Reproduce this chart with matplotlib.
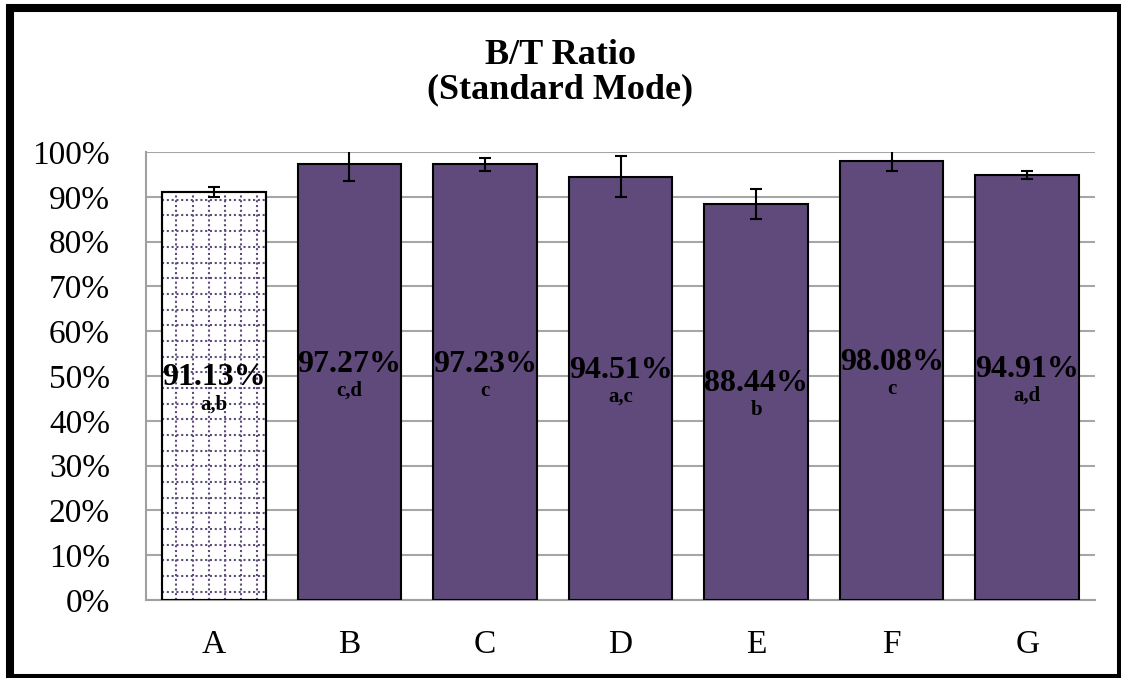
import numpy as np
import matplotlib
matplotlib.use("Agg")
import matplotlib.pyplot as plt
from matplotlib.patches import Rectangle

# data
groups = ["A", "B", "C", "D", "E", "F", "G"]
ratio = [91.13, 97.27, 97.23, 94.51, 88.44, 98.08, 94.91]
err = [1.1, 3.7, 1.5, 4.55, 3.35, 2.3, 0.9]
letters = ["a,b", "c,d", "c", "a,c", "b", "c", "a,d"]

purple = "#5f4a7b"
plt.rcParams["font.family"] = ["Liberation Serif", "DejaVu Serif"]

W, H = 1121, 678
fig = plt.figure(figsize=(W / 100, H / 100), dpi=100)
ax = fig.add_axes([146 / W, 1 - 600 / H, (1095 - 146) / W, (600 - 152) / H])

x = np.arange(len(groups))
vals = np.array(ratio) / 100
errs = np.array(err) / 100
colors = ["white"] + [purple] * (len(groups) - 1)
bars = ax.bar(x, vals, width=0.765, color=colors, edgecolor="black", linewidth=1.5, zorder=3)

# dotted grid pattern inside the first (control) bar
b0 = bars[0]
x0, w0, h0 = b0.get_x(), b0.get_width(), b0.get_height()
vx = x0 + w0 * (0.14 + 0.155 * np.arange(6))
hy = np.arange(h0 - 0.018, 0, -0.035)
dots = (0, (1, 1.3))
ax.vlines(vx, 0, h0, colors=purple, linestyles=dots, linewidth=1.5, zorder=3.5, clip_path=b0)
ax.hlines(hy, x0, x0 + w0, colors=purple, linestyles=dots, linewidth=1.5, zorder=3.5, clip_path=b0)
ax.bar(x[:1], vals[:1], width=0.765, color="none", edgecolor="black", linewidth=1.5, zorder=3.6)

ax.errorbar(x, vals, yerr=errs, fmt="none", ecolor="black", elinewidth=1.5,
            capsize=4.5, capthick=1.5, zorder=4)

for i, v in enumerate(vals):
    ax.annotate(f"{ratio[i]:.2f}%", (x[i], v / 2), xytext=(0, 13), textcoords="offset points",
                ha="center", va="center", fontsize=23, fontweight="bold", zorder=5)
    ax.annotate(letters[i], (x[i], v / 2), xytext=(0, -6), textcoords="offset points",
                ha="center", va="center", fontsize=15, fontweight="bold", zorder=5)

ax.set_xlim(-0.5, len(groups) - 0.5)
ax.set_ylim(0, 1)
ticks = np.arange(0, 1.01, 0.1)
ax.set_yticks(ticks)
ax.set_yticklabels([f"{int(round(t * 100))}%" for t in ticks])
ax.set_xticks(x)
ax.set_xticklabels(groups)
ax.tick_params(axis="both", length=0, labelsize=24)
ax.tick_params(axis="x", pad=21)
ax.tick_params(axis="y", pad=26)
ax.grid(axis="y", color="#a6a6a6", linewidth=1.5, zorder=0)
ax.set_axisbelow(True)
for s in ["top", "right"]:
    ax.spines[s].set_visible(False)
for s in ["left", "bottom"]:
    ax.spines[s].set_color("#a0a0a0")
    ax.spines[s].set_linewidth(1.5)

fig.text(0.5, 1 - 64 / H, "B/T Ratio", ha="center", va="baseline",
         fontsize=26, fontweight="bold")
fig.text(0.5, 1 - 98 / H, "(Standard Mode)", ha="center", va="baseline",
         fontsize=26, fontweight="bold")

# thick frame around the chart
fig.patches.append(Rectangle((10 / W, 0.5 / H), (1121 - 10) / W, (678 - 8 - 0.5) / H,
                             transform=fig.transFigure, fill=False, edgecolor="black",
                             linewidth=5.8, clip_on=False))

fig.savefig("out.png", dpi=100)
